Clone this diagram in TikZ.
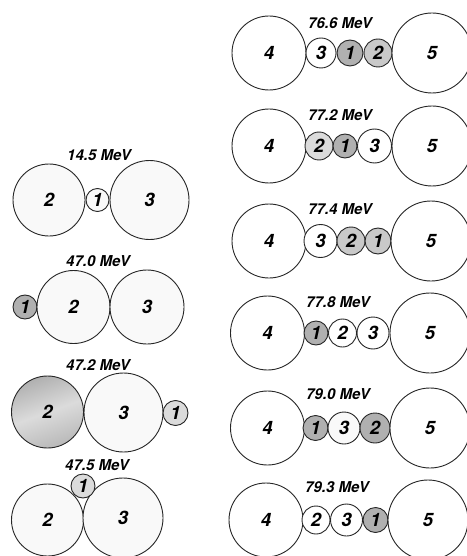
\documentclass[tikz,border=0pt]{standalone}
\usepackage{fontspec}
\setmainfont{TeX Gyre Heros}
\begin{document}
\begin{tikzpicture}[x=1pt,y=-1pt,
  ball/.style={circle,draw=black!85,line width=0.9pt,inner sep=0pt,
    font=\fontsize{18.5}{18.5}\selectfont\bfseries\itshape},
  lbl/.style={inner sep=0pt,font=\fontsize{15}{15}\selectfont\bfseries\itshape},
  dk/.style={fill=gray!62},
  md/.style={fill=gray!42},
  lt/.style={fill=gray!28},
  wh/.style={fill=white},
  sp/.style={fill=gray!5}]
\useasboundingbox (0,0) rectangle (466,556);
\newcommand{\ball}[6]{\node[ball,#5,minimum size={2*#4pt}] (#1) at (#2,#3) {#6};}
% ---------- left column ----------
\node[lbl] (l1) at (99,155) {14.5 MeV};
\ball{a2}{49}{200}{36}{sp}{2}
\ball{a1}{97.5}{200}{11.5}{sp}{1}
\ball{a3}{149.5}{200}{39.5}{sp}{3}

\node[lbl] (l2) at (98,261) {47.0 MeV};
\ball{b1}{25}{307}{12}{dk}{1}
\ball{b2}{73.5}{307}{36.5}{sp}{2}
\ball{b3}{147}{307}{37}{sp}{3}

\node[lbl] (l3) at (98,365) {47.2 MeV};
\node[ball,minimum size=72pt,left color=gray!62,right color=gray!55,middle color=gray!28,shading angle=20] (c2) at (47.5,412) {2};
\ball{c3}{123.5}{412.5}{39.5}{sp}{3}
\ball{c1}{175.5}{413}{12.5}{lt}{1}

\node[lbl] (l4) at (97,465) {47.5 MeV};
\ball{d2}{47.5}{520}{36}{sp}{2}
\ball{d3}{123}{518}{40}{sp}{3}
\ball{d1}{83}{486}{12}{lt}{1}

% ---------- right column ----------
\node[lbl] (r1) at (340,23) {76.6 MeV};
\ball{e4}{269}{53}{37}{wh}{4}
\ball{e3}{321}{53}{15}{wh}{3}
\ball{e1}{350}{53}{13}{dk}{1}
\ball{e2}{378}{53}{14}{md}{2}
\ball{e5}{432}{53}{40}{wh}{5}

\node[lbl] (r2) at (340,115) {77.2 MeV};
\ball{f4}{269}{146}{37}{wh}{4}
\ball{f2}{319}{146}{14}{lt}{2}
\ball{f1}{345}{146}{12}{dk}{1}
\ball{f3}{374.5}{146}{17}{wh}{3}
\ball{f5}{432}{146}{40}{wh}{5}

\node[lbl] (r3) at (340,209) {77.4 MeV};
\ball{g4}{269}{241}{37}{wh}{4}
\ball{g3}{320.5}{241}{16.5}{wh}{3}
\ball{g2}{351}{241}{14}{md}{2}
\ball{g1}{378}{241}{13}{md}{1}
\ball{g5}{431}{241}{40}{wh}{5}

\node[lbl] (r4) at (338,302) {77.8 MeV};
\ball{h4}{267.5}{333}{37}{wh}{4}
\ball{h1}{316}{333}{12}{dk}{1}
\ball{h2}{342.5}{333}{14}{wh}{2}
\ball{h3}{373}{333}{16}{wh}{3}
\ball{h5}{430}{333}{40}{wh}{5}

\node[lbl] (r5) at (338,394) {79.0 MeV};
\ball{i4}{267.5}{428}{37}{wh}{4}
\ball{i1}{315.5}{428}{12.5}{dk}{1}
\ball{i3}{344}{428}{16}{sp}{3}
\ball{i2}{375}{428}{15}{dk}{2}
\ball{i5}{430}{428}{40}{wh}{5}

\node[lbl] (r6) at (337,487) {79.3 MeV};
\ball{j4}{266}{520}{37}{wh}{4}
\ball{j2}{316}{520}{14}{wh}{2}
\ball{j3}{346.5}{520}{16}{wh}{3}
\ball{j1}{375.5}{520}{12.5}{dk}{1}
\ball{j5}{428}{520}{40}{wh}{5}
\end{tikzpicture}
\end{document}
